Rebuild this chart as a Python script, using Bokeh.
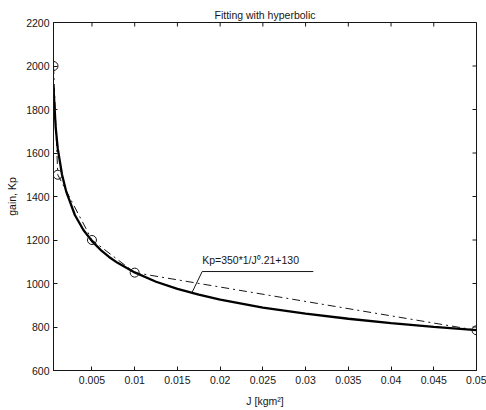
import math
from bokeh.plotting import figure
from bokeh.models import FixedTicker, Label, Range1d, CustomJSTickFormatter
from bokeh.embed import file_html
from bokeh.resources import INLINE

# measured data (circles)
J_data = [0.0005, 0.001, 0.005, 0.01, 0.05]
Kp_data = [2000, 1500, 1200, 1050, 785]

# fitted hyperbolic curve
J_fit = [0.0005, 0.00075, 0.001, 0.0015, 0.002, 0.003, 0.004, 0.005, 0.006, 0.007,
         0.008, 0.01, 0.0125, 0.015, 0.0175, 0.02, 0.025, 0.03, 0.035, 0.04, 0.045, 0.05]
Kp_fit = [1900, 1720, 1620, 1500, 1421, 1315, 1246, 1195, 1155, 1122,
          1095, 1051, 1008, 975, 949, 926, 889, 861, 838, 818, 801, 786]

x_ticks = [0.005, 0.01, 0.015, 0.02, 0.025, 0.03, 0.035, 0.04, 0.045, 0.05]
y_ticks = [600, 800, 1000, 1200, 1400, 1600, 1800, 2000, 2200]

title_text = "Fitting with hyperbolic"
x_label = "J [kgm\u00b2]"
y_label = "gain, Kp"
fit_text = "Kp=350*1/J\u2070.21+130"

FONT = "Liberation Sans"
INK = "#161616"
FS = "10.5px"

x_lo, x_hi = J_data[0], J_data[-1]
y_lo, y_hi = 600, 2200

p = figure(width=486, height=410, output_backend="svg", toolbar_location=None,
           x_range=Range1d(x_lo, x_hi), y_range=Range1d(y_lo, y_hi),
           min_border_left=53, min_border_right=10, min_border_top=22, min_border_bottom=40)
p.title.text = title_text
p.title.align = "center"
p.title.text_font = FONT
p.title.text_font_size = FS
p.title.text_font_style = "normal"
p.title.text_color = INK
p.title.standoff = 4
p.title.offset = 0

p.xgrid.visible = False
p.ygrid.visible = False
p.outline_line_color = INK
p.outline_line_width = 1
p.background_fill_color = "white"
p.border_fill_color = "white"

fmt_x = CustomJSTickFormatter(code="return String(Number(tick.toFixed(4)));")

def style(ax):
    ax.major_tick_in = 4
    ax.major_tick_out = 0
    ax.minor_tick_in = 0
    ax.minor_tick_out = 0
    ax.axis_line_color = INK
    ax.major_tick_line_color = INK
    ax.major_label_text_font = FONT
    ax.major_label_text_color = INK
    ax.major_label_text_font_size = FS
    ax.axis_label_text_font = FONT
    ax.axis_label_text_font_style = "normal"
    ax.axis_label_text_color = INK
    ax.axis_label_text_font_size = FS

xa = p.xaxis[0]
xa.ticker = FixedTicker(ticks=x_ticks)
xa.formatter = fmt_x
xa.axis_label = x_label
style(xa)
xa.major_label_standoff = 5
xa.axis_label_standoff = 8

ya = p.yaxis[0]
ya.ticker = FixedTicker(ticks=y_ticks)
ya.axis_label = y_label
style(ya)
ya.major_label_standoff = 4
ya.axis_label_standoff = 5

# mirrored inward ticks on top and right edges
p.ray(x=x_ticks, y=[y_hi] * len(x_ticks), length=4, length_units="screen",
      angle=-math.pi / 2, line_color=INK, line_width=1)
p.ray(x=[x_hi] * len(y_ticks), y=y_ticks, length=4, length_units="screen",
      angle=math.pi, line_color=INK, line_width=1)

# data connected with dash-dot line
p.line(J_data, Kp_data, line_color=INK, line_width=1, line_dash="8 4 2 4")
# fitted curve
p.line(J_fit, Kp_fit, line_color="black", line_width=2.3)
# data circles
p.scatter(J_data, Kp_data, marker="circle", size=9, fill_color=None,
          line_color=INK, line_width=1)

# annotation leader line and text
lead_x = [0.01665, 0.0179, 0.0309]
lead_y = [954, 1055, 1055]
p.line(lead_x, lead_y, line_color=INK, line_width=1)
p.add_layout(Label(x=0.0179, y=1110, text=fit_text, text_font=FONT,
                   text_font_size=FS, text_color=INK, text_baseline="alphabetic"))

open("out.html", "w").write(file_html(p, INLINE))
